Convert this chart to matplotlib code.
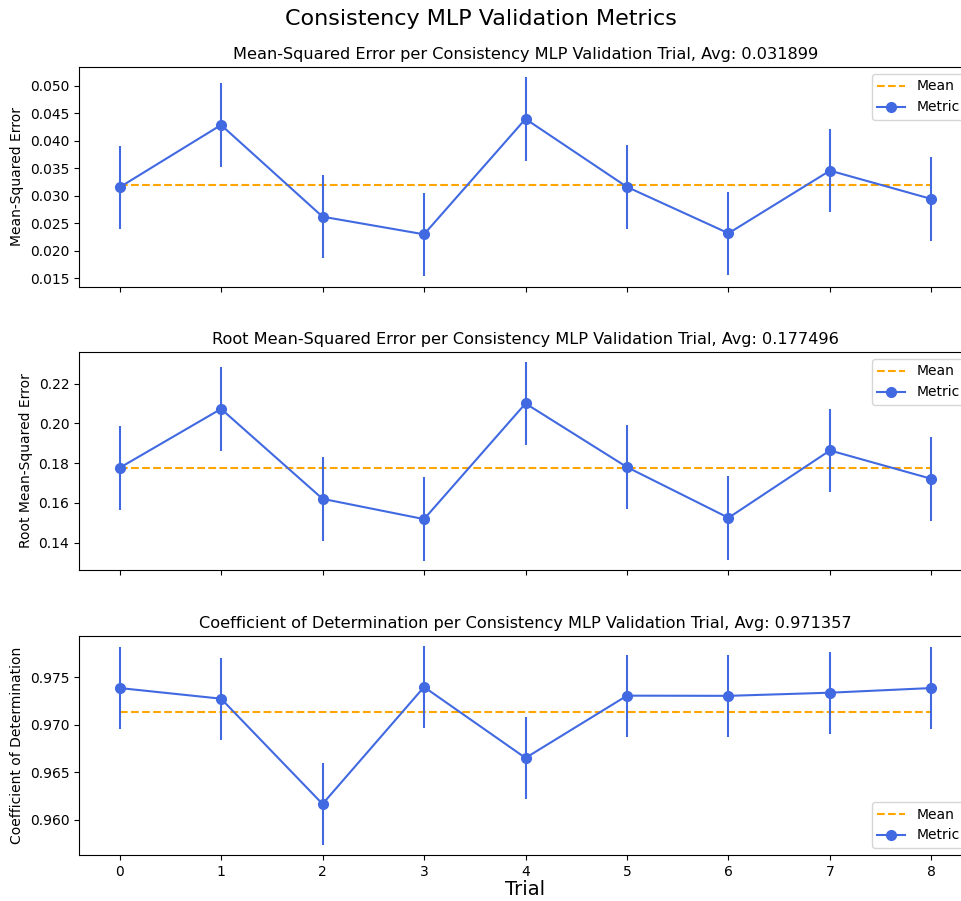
import numpy as np
import matplotlib
matplotlib.use('Agg')
import matplotlib.pyplot as plt

trials = [0, 1, 2, 3, 4, 5, 6, 7, 8]

mse = [0.03156, 0.0429, 0.02621, 0.0230, 0.0440, 0.03162, 0.02319, 0.03459, 0.02943]
mse_err = [0.0076, 0.0077, 0.0076, 0.0076, 0.0077, 0.0076, 0.0076, 0.0076, 0.0076]
mse_avg = 0.031899

rmse = [0.17761, 0.20724, 0.16204, 0.15184, 0.20996, 0.17796, 0.15250, 0.18635, 0.17209]
rmse_err = [0.021, 0.021, 0.021, 0.021, 0.021, 0.021, 0.021, 0.021, 0.021]
rmse_avg = 0.177496

r2 = [0.97387, 0.97275, 0.96168, 0.97398, 0.96652, 0.97307, 0.97305, 0.97338, 0.97387]
r2_err = [0.0043, 0.0043, 0.0043, 0.0043, 0.0043, 0.0043, 0.0043, 0.0043, 0.0043]
r2_avg = 0.971357

metrics = [
    ('Mean-Squared Error', mse, mse_err, mse_avg, 'upper right'),
    ('Root Mean-Squared Error', rmse, rmse_err, rmse_avg, 'upper right'),
    ('Coefficient of Determination', r2, r2_err, r2_avg, 'lower right'),
]

fig = plt.figure(figsize=(9.61, 9.01), dpi=100)

# axes run past the right edge, like the cropped original
boxes = [
    [0.0822, 0.6815, 0.9293, 0.2442],
    [0.0822, 0.3674, 0.9293, 0.2420],
    [0.0822, 0.0511, 0.9293, 0.2430],
]

axes = []
for i, (name, vals, errs, avg, loc) in enumerate(metrics):
    ax = fig.add_axes(boxes[i], sharex=axes[0] if axes else None)
    ax.plot([trials[0], trials[-1]], [avg, avg], '--', color='orange', label='Mean')
    ax.errorbar(trials, vals, yerr=errs, color='royalblue', fmt='none', linewidth=1.5)
    ax.plot(trials, vals, color='royalblue', marker='o', markersize=7,
            linewidth=1.5, label='Metric')
    ax.set_title('{} per Consistency MLP Validation Trial, Avg: {:.6f}'.format(name, avg), fontsize=11.6)
    ax.set_ylabel(name)
    ax.legend(loc=loc)
    ax.spines['right'].set_visible(False)
    if i < 2:
        plt.setp(ax.get_xticklabels(), visible=False)
    axes.append(ax)

axes[0].set_ylim(0.01342, 0.05346)
axes[1].set_ylim(0.12628, 0.23587)
axes[2].set_ylim(0.95632, 0.97934)
axes[0].set_yticks([0.015, 0.020, 0.025, 0.030, 0.035, 0.040, 0.045, 0.050])
axes[1].set_yticks([0.14, 0.16, 0.18, 0.20, 0.22])
axes[2].set_yticks([0.960, 0.965, 0.970, 0.975])
axes[2].set_xlim(-0.4, 8.4)
axes[2].set_xticks(trials)
axes[2].set_xlabel('Trial', fontsize=14, labelpad=1)

fig.suptitle('Consistency MLP Validation Metrics', fontsize=16, x=0.5, y=0.99)

fig.savefig('out.png', dpi=100)
